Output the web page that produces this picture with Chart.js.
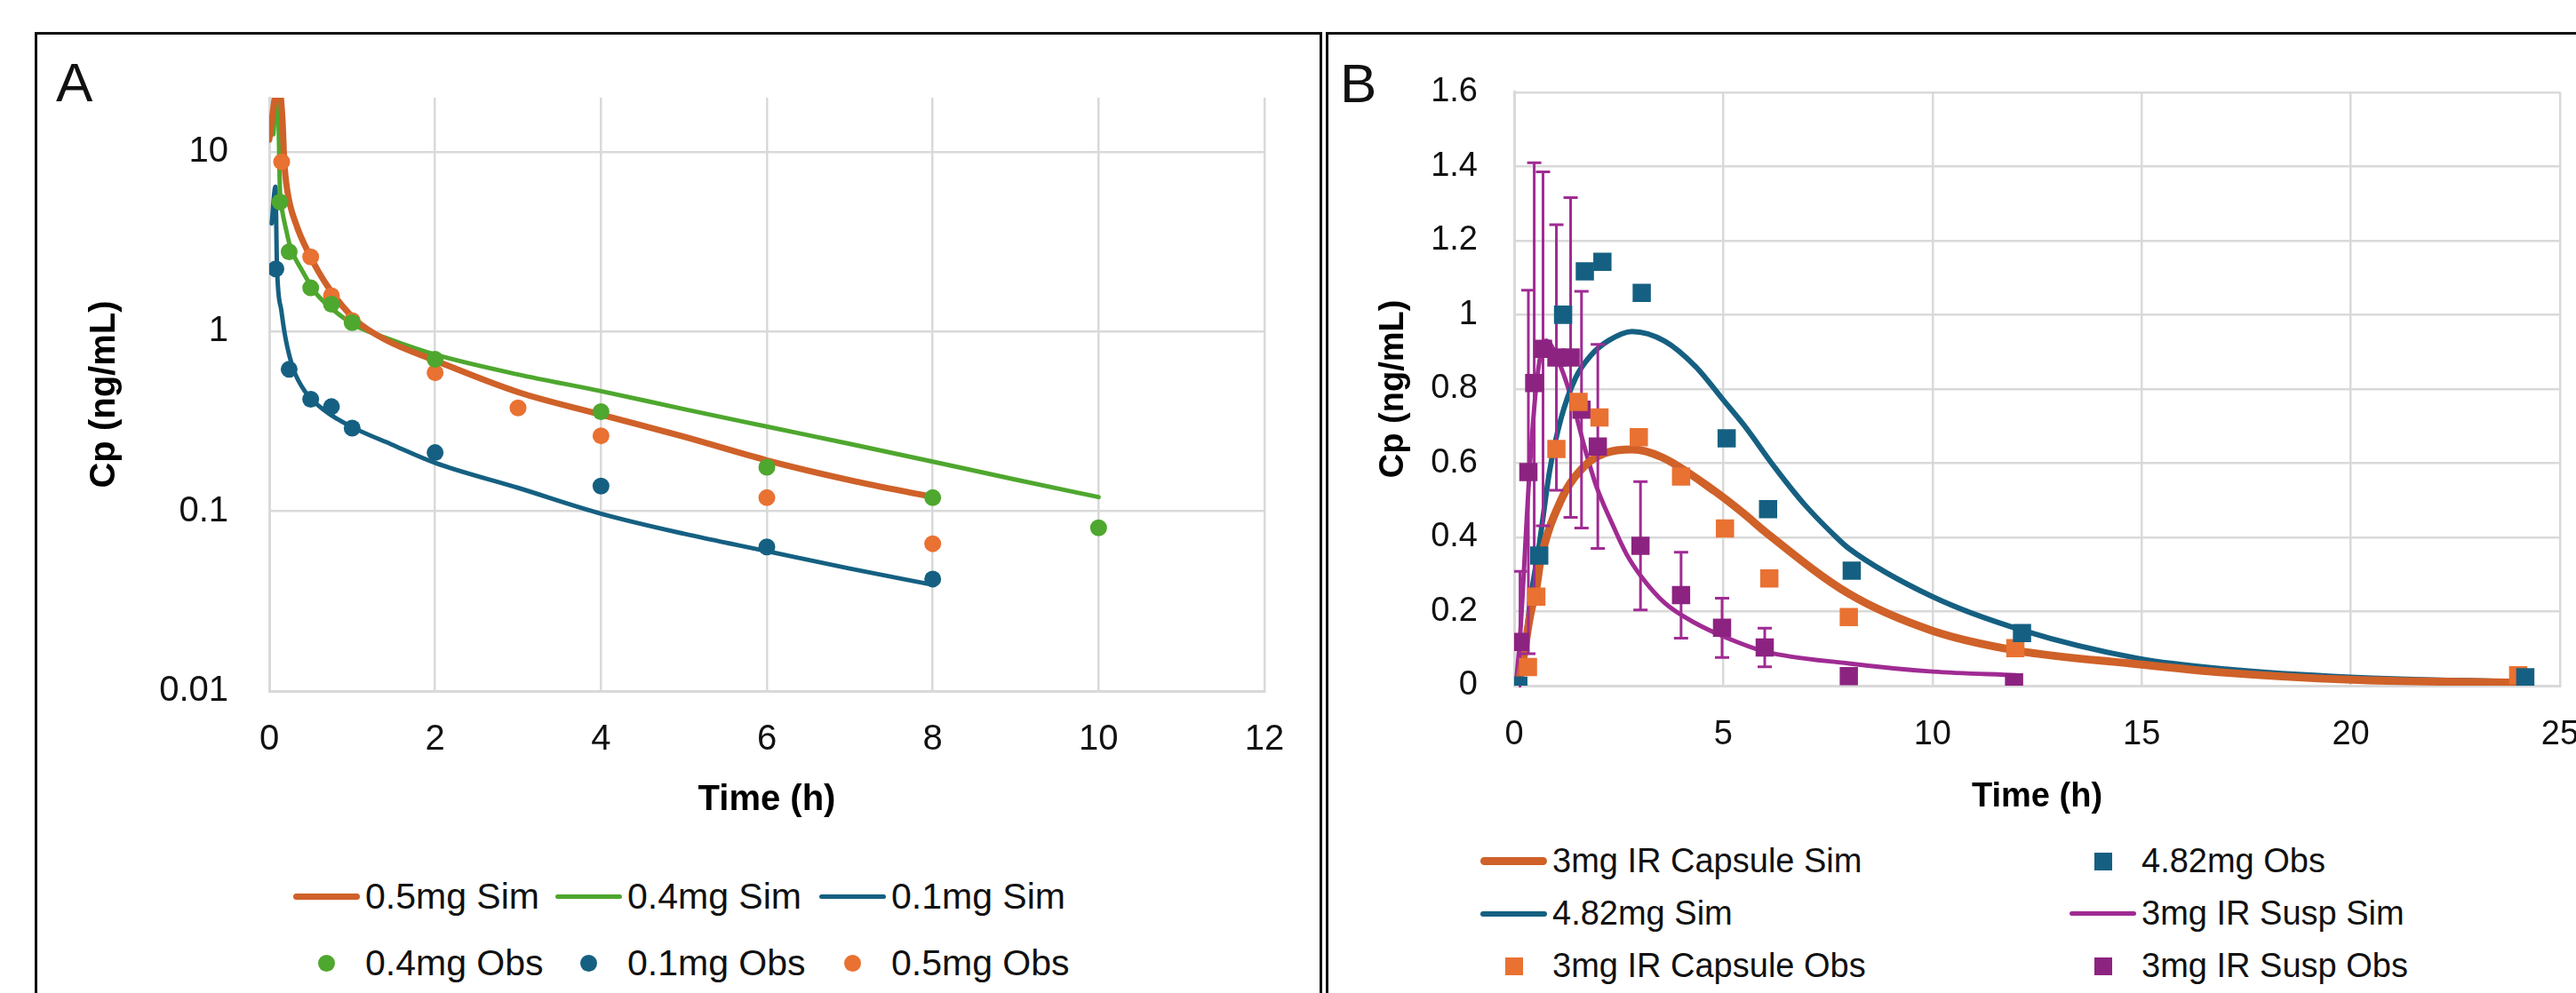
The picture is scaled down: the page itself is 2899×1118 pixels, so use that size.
<!DOCTYPE html>
<html>
<head>
<meta charset="utf-8">
<title>Cp vs time</title>
<script src="https://cdn.jsdelivr.net/npm/chart.js@4.4.1/dist/chart.umd.min.js"></script>
<style>
  html, body { margin: 0; padding: 0; width: 2899px; height: 1118px; overflow: hidden; background: #fff; }
  body { font-family: "Liberation Sans", Arial, sans-serif; color: #111; position: relative; }
  .panel { position: absolute; top: 36px; height: 1200px; border: 3px solid #111; box-sizing: border-box; }
  #panelA { left: 39px; width: 1449px; }
  #panelB { left: 1492px; width: 1500px; }
  .tag { position: absolute; font-size: 62px; line-height: 1; }
  canvas { position: absolute; }
  .legend { position: absolute; display: grid; }
  .item { display: flex; align-items: center; white-space: nowrap; }
  .sw { display: flex; align-items: center; justify-content: center; flex: none; }
</style>
</head>
<body>
<div class="panel" id="panelA"></div>
<div class="panel" id="panelB"></div>
<div class="tag" style="left:63px;top:62px">A</div>
<div class="tag" style="left:1508px;top:63px">B</div>

<canvas id="chartA" width="1440" height="885" style="left:44px;top:40px;width:1440px;height:885px"></canvas>
<canvas id="chartB" width="1453" height="880" style="left:1497px;top:40px;width:1453px;height:880px"></canvas>

<div class="legend" id="legendA" style="left:330px;top:972px;grid-template-columns:295px 297px auto;grid-auto-rows:75px;font-size:41px"></div>
<div class="legend" id="legendB" style="left:1666px;top:940px;grid-template-columns:663px auto;grid-auto-rows:59px;font-size:38px"></div>

<script>
// ---- panel A (log scale) ----
const aXTicks = [0, 2, 4, 6, 8, 10, 12];
const aYTicks = [0.01, 0.1, 1, 10];

const aSim05T = [0, 0.11, 0.16, 0.18, 0.22, 0.32, 0.48, 0.72, 1.04, 1.4, 2, 3, 4, 5, 6, 7, 8];
const aSim05C = [11.7, 24, 15, 9.0, 6.0, 4.0, 2.7, 1.74, 1.16, 0.9, 0.69, 0.46, 0.345, 0.26, 0.192, 0.149, 0.12];

const aSim04T = [0.05, 0.1, 0.13, 0.16, 0.2, 0.25, 0.4, 0.57, 0.79, 1.04, 1.47, 2, 3, 4, 5, 6, 7, 8, 9, 10];
const aSim04C = [12.5, 23, 6.0, 4.6, 3.75, 3.0, 2.17, 1.62, 1.3, 1.08, 0.9, 0.745, 0.577, 0.466, 0.37, 0.296, 0.237, 0.189, 0.15, 0.12];

const aSim01T = [0.03, 0.075, 0.093, 0.147, 0.2, 0.29, 0.43, 0.68, 1, 1.47, 2, 3, 4, 5, 6, 7, 8];
const aSim01C = [4.0, 6.4, 2.33, 1.3, 0.9, 0.62, 0.465, 0.36, 0.294, 0.236, 0.186, 0.135, 0.097, 0.075, 0.06, 0.048, 0.039];

const aObs04T = [0.13, 0.24, 0.5, 0.75, 1, 2, 4, 6, 8, 10];
const aObs04C = [5.26, 2.78, 1.75, 1.42, 1.12, 0.7, 0.358, 0.176, 0.119, 0.081];

const aObs01T = [0.08, 0.24, 0.5, 0.75, 1, 2, 4, 6, 8];
const aObs01C = [2.23, 0.616, 0.42, 0.382, 0.29, 0.212, 0.138, 0.0634, 0.042];

const aObs05T = [0.15, 0.5, 0.75, 1, 2, 3, 4, 6, 8];
const aObs05C = [8.8, 2.6, 1.58, 1.15, 0.59, 0.376, 0.263, 0.119, 0.066];

// ---- panel B (linear) ----
const bCapSimT = [0.1, 0.2, 0.375, 0.54, 0.62, 1.12, 1.69, 2.18, 2.82, 3.53, 4.8, 5.51, 6, 8, 10, 12, 14.9, 17, 20, 24];
const bCapSimC = [0, 0.06, 0.185, 0.27, 0.33, 0.5, 0.593, 0.627, 0.637, 0.616, 0.524, 0.462, 0.415, 0.248, 0.148, 0.095, 0.058, 0.035, 0.016, 0.008];

const bSim482T = [0, 0.2, 0.4, 0.6, 0.85, 1.12, 1.47, 1.83, 2.25, 2.82, 3.6, 4.34, 5, 5.51, 6.22, 6.93, 7.63, 8, 10, 12.13, 14.9, 17, 20, 24.2];
const bSim482C = [0, 0.06, 0.24, 0.38, 0.58, 0.72, 0.83, 0.89, 0.93, 0.955, 0.929, 0.86, 0.77, 0.70, 0.59, 0.49, 0.408, 0.37, 0.24, 0.15, 0.074, 0.045, 0.023, 0.01];

const bSuspSimT = [0.04, 0.14, 0.375, 0.55, 0.76, 1.12, 1.4, 1.69, 1.97, 2.33, 2.68, 3.04, 3.6, 4.31, 5, 6, 8, 10, 12];
const bSuspSimC = [0, 0.13, 0.59, 0.83, 0.93, 0.858, 0.763, 0.64, 0.536, 0.44, 0.356, 0.294, 0.223, 0.17, 0.133, 0.092, 0.06, 0.038, 0.028];

const bObs482T = [0.1, 0.6, 1.17, 1.69, 2.11, 3.05, 5.08, 6.07, 8.07, 12.14, 24.17];
const bObs482C = [0, 0.351, 1.0, 1.117, 1.143, 1.059, 0.667, 0.476, 0.31, 0.142, 0.023];

const bCapObsT = [0.33, 0.53, 1.01, 1.54, 2.04, 2.98, 3.99, 5.04, 6.1, 8, 11.98, 24];
const bCapObsC = [0.05, 0.24, 0.638, 0.765, 0.723, 0.67, 0.564, 0.424, 0.289, 0.185, 0.101, 0.028];

const bSuspObsT = [0.14, 0.34, 0.48, 0.69, 1.01, 1.35, 1.61, 2, 3.02, 3.99, 4.97, 5.99, 8, 11.95];
const bSuspObsC = [0.118, 0.576, 0.816, 0.908, 0.885, 0.885, 0.744, 0.645, 0.377, 0.244, 0.156, 0.103, 0.026, 0.009];
const bSuspObsSd = [0.19, 0.49, 0.594, 0.477, 0.358, 0.431, 0.319, 0.275, 0.173, 0.116, 0.08, 0.052, null, null];

const pts = (ts, cs) => ts.map((t, i) => ({ x: t, y: cs[i] }));

Chart.defaults.font.family = '"Liberation Sans", Arial, sans-serif';
Chart.defaults.color = '#111';

const gridColor = '#D9D9D9';

function simLine(label, ts, cs, color, width) {
    return {
        label: label,
        data: pts(ts, cs),
        showLine: true,
        borderColor: color,
        backgroundColor: color,
        borderWidth: width,
        borderCapStyle: 'round',
        borderJoinStyle: 'round',
        pointRadius: 0,
        cubicInterpolationMode: 'monotone',
        order: 1
    };
}

function obsPoints(label, ts, cs, color, style, radius) {
    return {
        label: label,
        data: pts(ts, cs),
        showLine: false,
        pointStyle: style,
        pointRadius: radius,
        pointBorderWidth: 0,
        backgroundColor: color,
        borderColor: color,
        order: 0
    };
}

// simple error bar drawer using the chart scales
const errorBars = {
    id: 'errorBars',
    beforeDatasetDraw(chart, args) {
        const ds = chart.data.datasets[args.index];
        if (!ds.errors) return;
        const { ctx, chartArea } = chart;
        const xs = chart.scales.x, ys = chart.scales.y;
        ctx.save();
        ctx.beginPath();
        ctx.rect(chartArea.left, chartArea.top - 2, chartArea.right - chartArea.left, chartArea.bottom - chartArea.top + 4);
        ctx.clip();
        ctx.strokeStyle = ds.errorColor;
        ctx.lineWidth = 3;
        ds.data.forEach((p, i) => {
            const e = ds.errors[i];
            if (e == null) return;
            const px = xs.getPixelForValue(p.x);
            const top = ys.getPixelForValue(p.y + e);
            const bot = ys.getPixelForValue(p.y - e);
            ctx.beginPath();
            ctx.moveTo(px, top); ctx.lineTo(px, bot);
            ctx.moveTo(px - 8, top); ctx.lineTo(px + 8, top);
            ctx.moveTo(px - 8, bot); ctx.lineTo(px + 8, bot);
            ctx.stroke();
        });
        ctx.restore();
    }
};

function htmlLegend(chart, el) {
    chart.data.datasets.forEach(ds => {
        const item = document.createElement('div');
        item.className = 'item';
        const sw = document.createElement('div');
        sw.className = 'sw';
        sw.style.width = '75px';
        sw.style.height = '30px';
        const mark = document.createElement('div');
        if (ds.showLine) {
            mark.style.width = '75px';
            mark.style.height = ds.borderWidth + 'px';
            mark.style.borderRadius = ds.borderWidth + 'px';
            mark.style.background = ds.borderColor;
        } else if (ds.pointStyle === 'circle') {
            mark.style.width = '19px';
            mark.style.height = '19px';
            mark.style.borderRadius = '50%';
            mark.style.background = ds.backgroundColor;
        } else {
            mark.style.width = '20px';
            mark.style.height = '20px';
            mark.style.background = ds.backgroundColor;
        }
        sw.appendChild(mark);
        const txt = document.createElement('span');
        txt.textContent = ds.label;
        txt.style.marginLeft = '6px';
        item.appendChild(sw);
        item.appendChild(txt);
        el.appendChild(item);
    });
}

const chartA = new Chart(document.getElementById('chartA'), {
    type: 'scatter',
    data: {
        datasets: [
            simLine('0.5mg Sim', aSim05T, aSim05C, '#CF6129', 7),
            simLine('0.4mg Sim', aSim04T, aSim04C, '#4EA72E', 5),
            simLine('0.1mg Sim', aSim01T, aSim01C, '#156082', 5),
            obsPoints('0.4mg Obs', aObs04T, aObs04C, '#4EA72E', 'circle', 9.5),
            obsPoints('0.1mg Obs', aObs01T, aObs01C, '#156082', 'circle', 9.5),
            obsPoints('0.5mg Obs', aObs05T, aObs05C, '#E97132', 'circle', 9.5)
        ]
    },
    options: {
        responsive: false,
        animation: false,
        events: [],
        layout: { padding: { left: 0, right: 61, top: 44, bottom: 0 } },
        plugins: { legend: { display: false }, tooltip: { enabled: false } },
        scales: {
            x: {
                type: 'linear',
                min: 0, max: 12,
                afterBuildTicks: s => { s.ticks = aXTicks.map(v => ({ value: v })); },
                afterFit: s => { s.height = 147; },
                grid: { color: gridColor, lineWidth: 2.5, drawTicks: false },
                border: { color: gridColor, width: 3 },
                ticks: { font: { size: 40 }, padding: 31, color: '#111' },
                title: { display: true, text: 'Time (h)', font: { size: 40, weight: 'bold' }, color: '#000', padding: { top: 0, bottom: 0 } }
            },
            y: {
                type: 'logarithmic',
                min: 0.01, max: 20,
                afterBuildTicks: s => { s.ticks = aYTicks.map(v => ({ value: v })); },
                afterFit: s => { s.width = 259; },
                grid: { color: gridColor, lineWidth: 2.5, drawTicks: false },
                border: { color: gridColor, width: 3 },
                ticks: { font: { size: 40 }, padding: 46, color: '#111', callback: v => String(v) },
                title: { display: true, text: 'Cp (ng/mL)', font: { size: 40, weight: 'bold' }, color: '#000', padding: { top: 50, bottom: 0 } }
            }
        }
    }
});

const suspObs = obsPoints('3mg IR Susp Obs', bSuspObsT, bSuspObsC, '#8C2381', 'rect', 14.5);
suspObs.errors = bSuspObsSd;
suspObs.errorColor = '#A02B93';

const chartB = new Chart(document.getElementById('chartB'), {
    type: 'scatter',
    data: {
        datasets: [
            simLine('3mg IR Capsule Sim', bCapSimT, bCapSimC, '#CF6129', 9),
            obsPoints('4.82mg Obs', bObs482T, bObs482C, '#156082', 'rect', 14.5),
            simLine('4.82mg Sim', bSim482T, bSim482C, '#156082', 6),
            simLine('3mg IR Susp Sim', bSuspSimT, bSuspSimC, '#A02B93', 5),
            obsPoints('3mg IR Capsule Obs', bCapObsT, bCapObsC, '#E97132', 'rect', 14.5),
            suspObs
        ]
    },
    options: {
        responsive: false,
        animation: false,
        events: [],
        layout: { padding: { left: 0, right: 69, top: 44, bottom: 0 } },
        plugins: { legend: { display: false }, tooltip: { enabled: false } },
        scales: {
            x: {
                type: 'linear',
                min: 0, max: 25,
                ticks: { stepSize: 5, font: { size: 38 }, padding: 33, color: '#111' },
                afterFit: s => { s.height = 148; },
                grid: { color: gridColor, lineWidth: 2.5, drawTicks: false },
                border: { color: gridColor, width: 3 },
                title: { display: true, text: 'Time (h)', font: { size: 38, weight: 'bold' }, color: '#000', padding: { top: 0, bottom: 0 } }
            },
            y: {
                type: 'linear',
                min: 0, max: 1.6,
                ticks: { stepSize: 0.2, font: { size: 38 }, padding: 41, color: '#111', callback: v => String(Number(v.toFixed(2))) },
                afterFit: s => { s.width = 207; },
                grid: { color: gridColor, lineWidth: 2.5, drawTicks: false },
                border: { color: gridColor, width: 3 },
                title: { display: true, text: 'Cp (ng/mL)', font: { size: 38, weight: 'bold' }, color: '#000', padding: { top: 49, bottom: 0 } }
            }
        }
    },
    plugins: [errorBars]
});

htmlLegend(chartA, document.getElementById('legendA'));
htmlLegend(chartB, document.getElementById('legendB'));
</script>
</body>
</html>
